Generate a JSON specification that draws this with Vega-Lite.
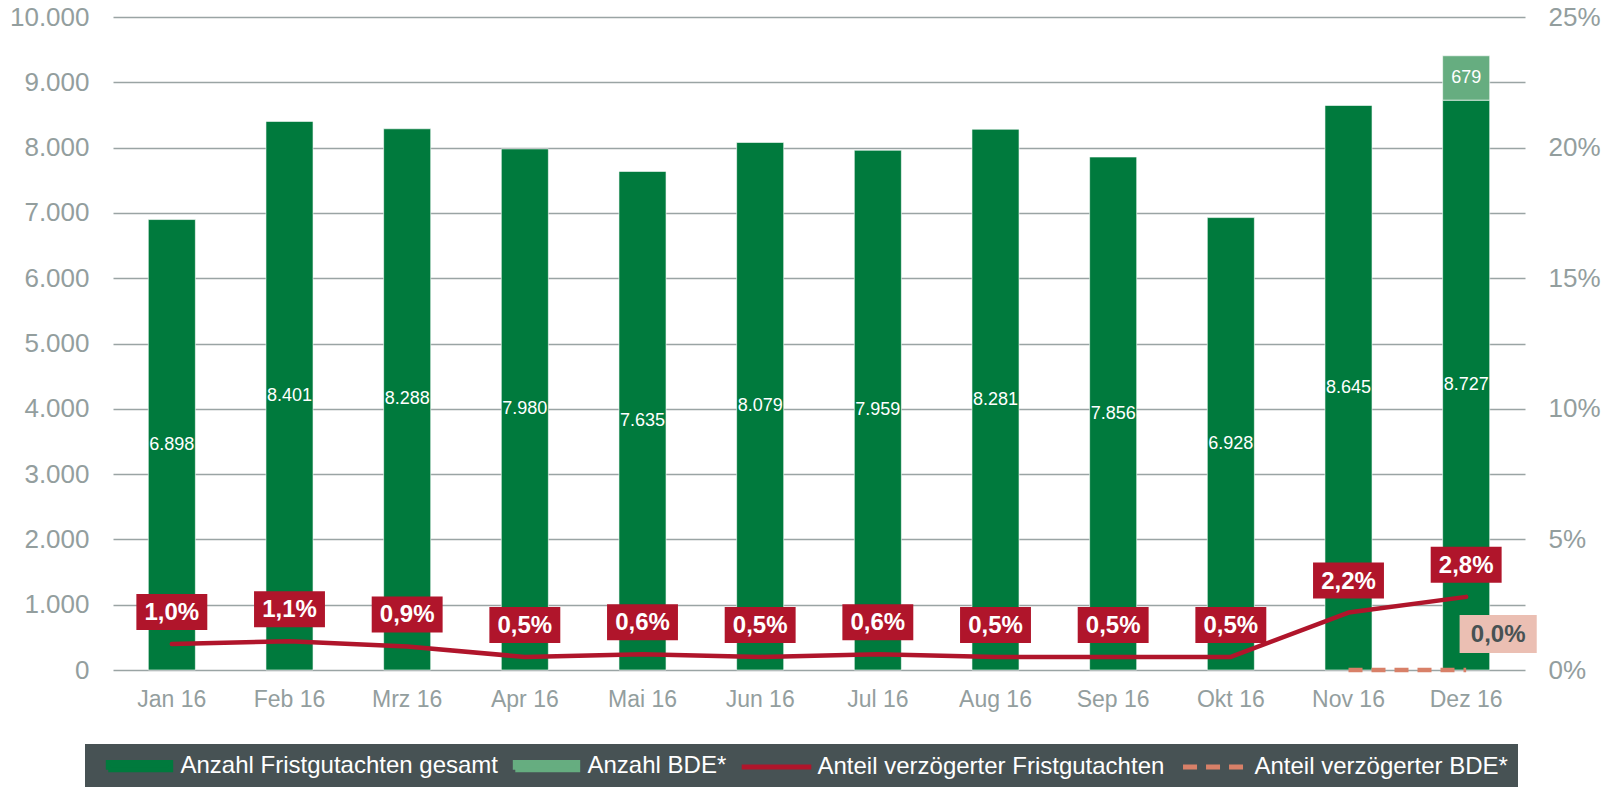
{
  "$schema": "https://vega.github.io/schema/vega-lite/v6.json",
  "width": 1412,
  "height": 653,
  "autosize": "none",
  "padding": {"left": 113, "top": 17, "right": 79, "bottom": 117},
  "background": "white",
  "config": {
    "locale": {"number": {"decimal": ",", "thousands": ".", "grouping": [3], "currency": ["", " €"]}},
    "font": "Liberation Sans",
    "view": {"stroke": null},
    "axis": {"labelFont": "Liberation Sans", "labelColor": "#939E9E", "domain": false, "ticks": false, "tickSize": 0, "title": null},
    "legend": {
      "orient": "none", "legendX": -28, "legendY": 727,
      "direction": "horizontal", "columns": 4,
      "fillColor": "#475254", "padding": 10,
      "labelFont": "Liberation Sans", "labelFontSize": 24, "labelColor": "white", "labelLimit": 800,
      "symbolSize": 144, "symbolOffset": 32.5, "labelOffset": 29, "columnPadding": 4,
      "symbolStrokeWidth": 5, "symbolOpacity": 1
    }
  },
  "datasets": {
    "counts": [
      {"month": "Jan 16", "series": "Anzahl Fristgutachten gesamt", "value": 6898},
      {"month": "Feb 16", "series": "Anzahl Fristgutachten gesamt", "value": 8401},
      {"month": "Mrz 16", "series": "Anzahl Fristgutachten gesamt", "value": 8288},
      {"month": "Apr 16", "series": "Anzahl Fristgutachten gesamt", "value": 7980},
      {"month": "Mai 16", "series": "Anzahl Fristgutachten gesamt", "value": 7635},
      {"month": "Jun 16", "series": "Anzahl Fristgutachten gesamt", "value": 8079},
      {"month": "Jul 16", "series": "Anzahl Fristgutachten gesamt", "value": 7959},
      {"month": "Aug 16", "series": "Anzahl Fristgutachten gesamt", "value": 8281},
      {"month": "Sep 16", "series": "Anzahl Fristgutachten gesamt", "value": 7856},
      {"month": "Okt 16", "series": "Anzahl Fristgutachten gesamt", "value": 6928},
      {"month": "Nov 16", "series": "Anzahl Fristgutachten gesamt", "value": 8645},
      {"month": "Dez 16", "series": "Anzahl Fristgutachten gesamt", "value": 8727},
      {"month": "Dez 16", "series": "Anzahl BDE*", "value": 679}
    ],
    "shares": [
      {"month": "Jan 16", "series": "Anteil verzögerter Fristgutachten", "share": 0.010},
      {"month": "Feb 16", "series": "Anteil verzögerter Fristgutachten", "share": 0.011},
      {"month": "Mrz 16", "series": "Anteil verzögerter Fristgutachten", "share": 0.009},
      {"month": "Apr 16", "series": "Anteil verzögerter Fristgutachten", "share": 0.005},
      {"month": "Mai 16", "series": "Anteil verzögerter Fristgutachten", "share": 0.006},
      {"month": "Jun 16", "series": "Anteil verzögerter Fristgutachten", "share": 0.005},
      {"month": "Jul 16", "series": "Anteil verzögerter Fristgutachten", "share": 0.006},
      {"month": "Aug 16", "series": "Anteil verzögerter Fristgutachten", "share": 0.005},
      {"month": "Sep 16", "series": "Anteil verzögerter Fristgutachten", "share": 0.005},
      {"month": "Okt 16", "series": "Anteil verzögerter Fristgutachten", "share": 0.005},
      {"month": "Nov 16", "series": "Anteil verzögerter Fristgutachten", "share": 0.022},
      {"month": "Dez 16", "series": "Anteil verzögerter Fristgutachten", "share": 0.028},
      {"month": "Nov 16", "series": "Anteil verzögerter BDE*", "share": 0.0},
      {"month": "Dez 16", "series": "Anteil verzögerter BDE*", "share": 0.0}
    ]
  },
  "encoding": {
    "x": {
      "field": "month", "type": "nominal",
      "sort": ["Jan 16", "Feb 16", "Mrz 16", "Apr 16", "Mai 16", "Jun 16", "Jul 16", "Aug 16", "Sep 16", "Okt 16", "Nov 16", "Dez 16"],
      "scale": {"paddingInner": 0.6, "paddingOuter": 0.3},
      "axis": {"labelFontSize": 23, "labelPadding": 18, "labelAngle": 0, "grid": false, "orient": "bottom"}
    }
  },
  "layer": [
    {
      "data": {"name": "counts"},
      "layer": [
        {
          "mark": {"type": "bar", "stroke": "white", "strokeWidth": 1, "strokeOpacity": 0.6},
          "encoding": {
            "y": {
              "field": "value", "type": "quantitative", "stack": "zero",
              "scale": {"domain": [0, 10000], "nice": false},
              "axis": {"orient": "left", "values": [0, 1000, 2000, 3000, 4000, 5000, 6000, 7000, 8000, 9000, 10000], "format": ",.0f", "labelFontSize": 26, "labelPadding": 24, "grid": true, "gridColor": "#9AA4A4", "gridWidth": 1.5}
            },
            "color": {
              "field": "series", "type": "nominal",
              "scale": {
                "domain": ["Anzahl Fristgutachten gesamt", "Anzahl BDE*", "Anteil verzögerter Fristgutachten", "Anteil verzögerter BDE*"],
                "range": ["#007A3D", "#66AD80", "#B0152B", "#D88068"]
              },
              "legend": {"title": null}
            },
            "order": {"field": "series", "sort": "descending"}
          }
        },
        {
          "mark": {"type": "text", "color": "white", "fontSize": 18, "dy": 22, "baseline": "middle"},
          "encoding": {
            "y": {"field": "value", "type": "quantitative", "stack": "zero"},
            "detail": {"field": "series"},
            "order": {"field": "series", "sort": "descending"},
            "text": {
              "condition": {"test": "datum.series === 'Anzahl BDE*'", "field": "value", "type": "quantitative", "format": ",.0f"},
              "value": ""
            }
          }
        }
      ]
    },
    {
      "data": {"name": "counts"},
      "transform": [{"filter": "datum.series === 'Anzahl Fristgutachten gesamt'"}],
      "mark": {"type": "text", "color": "white", "fontSize": 18, "baseline": "middle"},
      "encoding": {
        "y": {"field": "value", "type": "quantitative", "scale": {"domain": [0, 20000], "nice": false}, "axis": null},
        "text": {"field": "value", "type": "quantitative", "format": ",.0f"}
      }
    },
    {
      "data": {"name": "shares"},
      "layer": [
        {
          "transform": [{"filter": "datum.series === 'Anteil verzögerter Fristgutachten'"}],
          "mark": {"type": "line", "strokeWidth": 4.5, "strokeCap": "round", "strokeJoin": "round"},
          "encoding": {
            "y": {
              "field": "share", "type": "quantitative",
              "scale": {"domain": [0, 0.25], "nice": false},
              "axis": {"orient": "right", "values": [0, 0.05, 0.1, 0.15, 0.2, 0.25], "format": ".0%", "labelFontSize": 26, "labelPadding": 23, "grid": false}
            },
            "color": {"field": "series", "type": "nominal", "legend": {"title": null}}
          }
        },
        {
          "transform": [{"filter": "datum.series === 'Anteil verzögerter BDE*'"}],
          "mark": {"type": "line", "strokeWidth": 4.5},
          "encoding": {
            "y": {"field": "share", "type": "quantitative"},
            "color": {"field": "series", "type": "nominal", "legend": {"title": null}},
            "strokeDash": {
              "field": "series", "type": "nominal",
              "scale": {
                "domain": ["Anzahl Fristgutachten gesamt", "Anzahl BDE*", "Anteil verzögerter Fristgutachten", "Anteil verzögerter BDE*"],
                "range": [[1, 0], [1, 0], [1, 0], [14, 9]]
              },
              "legend": {"title": null}
            }
          }
        },
        {
          "transform": [{"filter": "false"}],
          "mark": {"type": "point", "filled": true},
          "encoding": {
            "y": {"field": "share", "type": "quantitative"},
            "color": {"field": "series", "type": "nominal", "legend": {"title": null}},
            "shape": {
              "field": "series", "type": "nominal",
              "scale": {
                "domain": ["Anzahl Fristgutachten gesamt", "Anzahl BDE*", "Anteil verzögerter Fristgutachten", "Anteil verzögerter BDE*"],
                "range": ["M-5.2,-0.6L5.2,-0.6L5.2,0.6L-5.2,0.6Z", "M-5.2,-0.6L5.2,-0.6L5.2,0.6L-5.2,0.6Z", "M-5.8,0L5.8,0", "M-5.08,0L5.08,0"]
              },
              "legend": {"title": null}
            }
          }
        },
        {
          "transform": [{"filter": "datum.series === 'Anteil verzögerter Fristgutachten'"}],
          "mark": {"type": "point", "shape": "M-1.97,-1L1.97,-1L1.97,1L-1.97,1Z", "size": 1296, "filled": true, "fill": "#B0152B", "opacity": 1, "strokeWidth": 0, "yOffset": -32},
          "encoding": {"y": {"field": "share", "type": "quantitative"}}
        },
        {
          "transform": [{"filter": "datum.series === 'Anteil verzögerter Fristgutachten'"}],
          "mark": {"type": "text", "color": "white", "fontSize": 24, "fontWeight": "bold", "baseline": "middle", "yOffset": -31},
          "encoding": {
            "y": {"field": "share", "type": "quantitative"},
            "text": {"field": "share", "type": "quantitative", "format": ".1%"}
          }
        },
        {
          "transform": [{"filter": "datum.series === 'Anteil verzögerter BDE*' && datum.month === 'Dez 16'"}],
          "mark": {"type": "point", "shape": "M-2.03,-1L2.03,-1L2.03,1L-2.03,1Z", "size": 1444, "filled": true, "fill": "#EBBFB3", "opacity": 1, "strokeWidth": 0, "xOffset": 32, "yOffset": -36},
          "encoding": {"y": {"field": "share", "type": "quantitative"}}
        },
        {
          "transform": [{"filter": "datum.series === 'Anteil verzögerter BDE*' && datum.month === 'Dez 16'"}],
          "mark": {"type": "text", "color": "#475254", "fontSize": 24, "fontWeight": "bold", "baseline": "middle", "xOffset": 32, "yOffset": -35},
          "encoding": {
            "y": {"field": "share", "type": "quantitative"},
            "text": {"field": "share", "type": "quantitative", "format": ".1%"}
          }
        }
      ]
    }
  ],
  "resolve": {"scale": {"y": "independent"}}
}
